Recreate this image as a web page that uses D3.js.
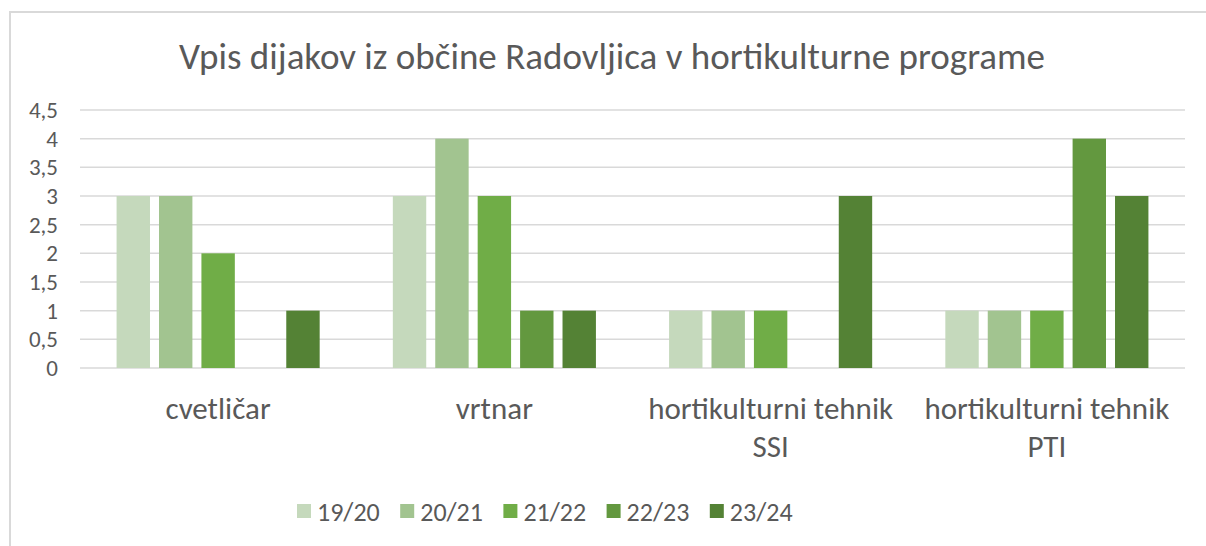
<!DOCTYPE html>
<html>

<head>
    <title>Vpis dijakov</title>
    <script src="https://d3js.org/d3.v7.min.js"></script>
    <style>
        body { margin: 0; background: #fff; }
        text { font-family: Calibri, Carlito, "Open Sans", sans-serif; fill: #595959; }
    </style>
</head>

<body>

    <svg width="1206" height="546" id="mainSvg"></svg>
    <script>
        const categories = ["cvetličar", "vrtnar", "hortikulturni tehnik SSI", "hortikulturni tehnik PTI"];
        const categoryLines = [["cvetličar"], ["vrtnar"], ["hortikulturni tehnik", "SSI"], ["hortikulturni tehnik", "PTI"]];
        const years = ["19/20", "20/21", "21/22", "22/23", "23/24"];
        // one array per school year, in category order
        const v1920 = [3, 3, 1, 1];
        const v2021 = [3, 4, 1, 1];
        const v2122 = [2, 3, 1, 1];
        const v2223 = [0, 1, 0, 4];
        const v2324 = [1, 1, 3, 3];
        const yTicks = [0, 0.5, 1, 1.5, 2, 2.5, 3, 3.5, 4, 4.5];
        const colors = ["#C5D9BC", "#A2C490", "#70AD47", "#63983F", "#548235"];

        const seriesValues = [v1920, v2021, v2122, v2223, v2324];

        const svg = d3.select("#mainSvg");

        // chart frame
        svg.append("rect")
            .attr("x", 10).attr("y", 12)
            .attr("width", 1220).attr("height", 560)
            .attr("fill", "none")
            .attr("stroke", "#d9d9d9")
            .attr("stroke-width", 2);

        svg.append("text")
            .attr("x", 612).attr("y", 69)
            .attr("text-anchor", "middle")
            .attr("font-size", 37)
            .text("Vpis dijakov iz občine Radovljica v hortikulturne programe");

        const plot = { left: 80, right: 1185, top: 110, bottom: 368 };

        const y = d3.scaleLinear().domain([0, 4.5]).range([plot.bottom, plot.top]);
        const x0 = d3.scaleBand().domain(categories).range([plot.left, plot.right]);

        // Excel style: gap width 219%, overlap -27%
        const barW = x0.bandwidth() / (5 + 4 * 0.27 + 2.19);
        const groupW = 5 * barW + 4 * 0.27 * barW;
        const x1 = d3.scaleBand().domain(years)
            .range([(x0.bandwidth() - groupW) / 2, (x0.bandwidth() + groupW) / 2])
            .paddingInner(0.27 / 1.27);

        // gridlines
        svg.append("g").selectAll("line")
            .data(yTicks).join("line")
            .attr("x1", plot.left).attr("x2", plot.right)
            .attr("y1", d => y(d)).attr("y2", d => y(d))
            .attr("stroke", "#d9d9d9")
            .attr("stroke-width", 1.5);

        svg.append("g").selectAll("text")
            .data(yTicks).join("text")
            .attr("x", 58).attr("y", d => y(d))
            .attr("dy", "0.35em")
            .attr("text-anchor", "end")
            .attr("font-size", 23)
            .text(d => String(d).replace(".", ","));

        // bars
        const bars = [];
        categories.forEach((c, i) => {
            years.forEach((yr, j) => {
                bars.push({ cat: c, year: yr, value: seriesValues[j][i], color: colors[j] });
            });
        });

        svg.append("g").selectAll("rect")
            .data(bars.filter(d => d.value > 0)).join("rect")
            .attr("x", d => x0(d.cat) + x1(d.year))
            .attr("width", x1.bandwidth())
            .attr("y", d => y(d.value))
            .attr("height", d => y(0) - y(d.value))
            .attr("fill", d => d.color);

        // category labels
        const catLabel = svg.append("g").selectAll("text")
            .data(categories).join("text")
            .attr("x", d => x0(d) + x0.bandwidth() / 2)
            .attr("y", 419)
            .attr("text-anchor", "middle")
            .attr("font-size", 31);
        catLabel.selectAll("tspan")
            .data((d, i) => categoryLines[i]).join("tspan")
            .attr("x", function () { return this.parentNode.getAttribute("x"); })
            .attr("dy", (d, i) => i === 0 ? 0 : 38)
            .text(d => d);

        // legend
        const legendX = d3.scaleBand().domain(years).range([297, 813]);
        const legend = svg.append("g").selectAll("g")
            .data(years).join("g")
            .attr("transform", d => `translate(${legendX(d)}, 0)`);
        legend.append("rect")
            .attr("x", 0).attr("y", 504)
            .attr("width", 14).attr("height", 14)
            .attr("fill", (d, i) => colors[i]);
        legend.append("text")
            .attr("x", 20).attr("y", 521)
            .attr("font-size", 26)
            .text(d => d);
    </script>
</body>

</html>
